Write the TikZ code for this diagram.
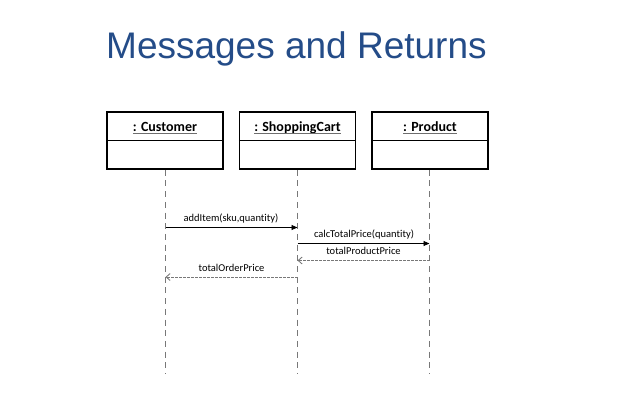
\documentclass[tikz,border=0pt]{standalone}
\usepackage{fontspec}
\setmainfont{Carlito}[Ligatures=NoCommon]
\newfontfamily\titlefont{Liberation Sans}
\usetikzlibrary{arrows.meta}
\definecolor{titleblue}{RGB}{36,76,136}
\definecolor{lifegray}{RGB}{120,120,120}
\definecolor{ulgray}{RGB}{110,110,110}
\newcommand{\objul}[1]{\tikz[baseline=(t.base)]{\node[inner sep=0pt] (t) {#1}; \draw[ulgray, line width=0.8pt] ([yshift=-2pt]t.base west) -- ([yshift=-2pt]t.base east);}}
\tikzset{
  objbox/.style={draw=black, line width=1.5pt, minimum width=116pt, minimum height=57pt, inner sep=0pt},
  objname/.style={font=\fontsize{14}{16}\selectfont\bfseries, inner sep=0pt, anchor=base},
  lifeline/.style={draw=lifegray, line width=1pt, dash pattern=on 6pt off 4.7pt},
  callmsg/.style={draw=black, line width=0.9pt, -{Triangle[length=6pt,width=5pt]}},
  retmsg/.style={draw=lifegray, line width=0.9pt, dash pattern=on 2.5pt off 1.5pt, -{Straight Barb[length=4pt,width=7pt]}},
  msglabel/.style={font=\fontsize{10.5}{12}\selectfont, inner sep=0pt, anchor=base}
}
\begin{document}
\begin{tikzpicture}[x=1pt,y=-1pt]
\useasboundingbox (0,0) rectangle (632,412);
% title
\node[font=\titlefont\fontsize{37}{40}\selectfont, text=titleblue, anchor=base west, inner sep=0pt] (title) at (106,58.5) {Messages and Returns};
% object boxes
\node[objbox] (cust) at (165,140.5) {};
\node[objbox] (cart) at (297.5,140.5) {};
\node[objbox] (prod) at (430,140.5) {};
\draw[line width=1.5pt] (cust.west) -- (cust.east);
\draw[line width=1.5pt] (cart.west) -- (cart.east);
\draw[line width=1.5pt] (prod.west) -- (prod.east);
\node[objname] (custname) at (165,131) {\objul{: Customer}};
\node[objname] (cartname) at (297.5,131) {\objul{: ShoppingCart}};
\node[objname] (prodname) at (430,131) {\objul{: Product}};
% lifeline ends
\coordinate (custend) at (165.5,374);
\coordinate (cartend) at (297.5,374);
\coordinate (prodend) at (429.5,374);
\draw[lifeline] (cust.south -| custend) -- (custend);
\draw[lifeline] (cart.south -| cartend) -- (cartend);
\draw[lifeline] (prod.south -| prodend) -- (prodend);
% message points
\coordinate (m1s) at (165.5,227.5);
\coordinate (m1e) at (297.5,227.5);
\coordinate (m2s) at (297.5,243.5);
\coordinate (m2e) at (429.5,243.5);
\coordinate (m3s) at (429.5,260.5);
\coordinate (m3e) at (297.5,260.5);
\coordinate (m4s) at (297.5,277);
\coordinate (m4e) at (165.5,277);
\draw[callmsg] (m1s) -- (m1e);
\draw[callmsg] (m2s) -- (m2e);
\draw[retmsg] (m3s) -- (m3e);
\draw[retmsg] (m4s) -- (m4e);
\node[msglabel] (l1) at (231,221) {addItem(sku,quantity)};
\node[msglabel] (l2) at (364,237.5) {calcTotalPrice(quantity)};
\node[msglabel] (l3) at (363.5,254.5) {totalProductPrice};
\node[msglabel] (l4) at (231.5,271) {totalOrderPrice};
\end{tikzpicture}
\end{document}
